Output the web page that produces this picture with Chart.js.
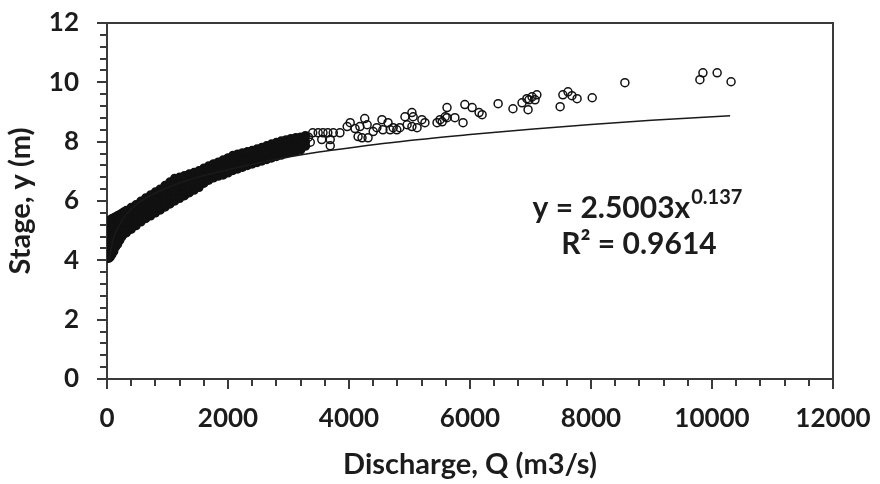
<!DOCTYPE html>
<html>
<head>
<meta charset="utf-8">
<script src="https://cdn.jsdelivr.net/npm/chart.js@4.4.1/dist/chart.umd.min.js"></script>
<style>
  html, body { margin: 0; padding: 0; background: #fff; }
  #wrap { width: 880px; height: 484px; }
</style>
</head>
<body>
<div id="wrap"><canvas id="chart" width="880" height="484"></canvas></div>
<script>
/* global Chart */

// Dense band of observations: one discharge value per column, with the stages seen there
const bandQ = [30, 55, 80, 110, 140, 175, 210, 245, 280, 320, 400, 480, 560, 640, 720, 800, 880, 960,
  1040, 1120, 1200, 1280, 1360, 1440, 1520, 1600, 1680, 1760, 1840, 1920, 2000, 2080, 2160, 2240,
  2320, 2400, 2480, 2560, 2640, 2720, 2800, 2880, 2960, 3040, 3120, 3200, 3280];
const bandStage = [
  [4.07, 4.23, 4.39, 4.55, 4.71, 4.87, 5.03, 5.19, 5.32],
  [4.12, 4.28, 4.44, 4.60, 4.76, 4.92, 5.08, 5.24, 5.36],
  [4.20, 4.36, 4.52, 4.68, 4.84, 5.00, 5.16, 5.32, 5.40],
  [4.30, 4.46, 4.62, 4.78, 4.94, 5.10, 5.26, 5.43],
  [4.45, 4.60, 4.76, 4.92, 5.08, 5.24, 5.46],
  [4.55, 4.71, 4.87, 5.03, 5.19, 5.35, 5.50],
  [4.68, 4.84, 5.00, 5.16, 5.32, 5.54],
  [4.80, 4.96, 5.12, 5.28, 5.44, 5.58],
  [4.90, 5.05, 5.20, 5.35, 5.50, 5.63],
  [4.93, 5.09, 5.25, 5.41, 5.57, 5.68],
  [5.05, 5.13, 5.29, 5.45, 5.61, 5.78],
  [5.17, 5.33, 5.49, 5.65, 5.87],
  [5.30, 5.38, 5.54, 5.70, 5.86, 5.99],
  [5.41, 5.57, 5.73, 5.89, 6.10],
  [5.50, 5.58, 5.74, 5.90, 6.06, 6.20],
  [5.60, 5.76, 5.92, 6.08, 6.30],
  [5.70, 5.78, 5.94, 6.10, 6.26, 6.40],
  [5.80, 5.96, 6.12, 6.28, 6.52],
  [5.90, 5.98, 6.14, 6.30, 6.46, 6.64],
  [6.00, 6.16, 6.32, 6.48, 6.64, 6.76],
  [6.09, 6.17, 6.33, 6.49, 6.65, 6.80],
  [6.18, 6.34, 6.50, 6.66, 6.85],
  [6.28, 6.36, 6.52, 6.68, 6.91],
  [6.37, 6.53, 6.69, 6.85, 6.96],
  [6.46, 6.54, 6.70, 6.86, 7.02],
  [6.60, 6.76, 6.92, 7.10],
  [6.70, 6.78, 6.94, 7.10, 7.18],
  [6.78, 6.94, 7.10, 7.25],
  [6.84, 6.92, 7.08, 7.24, 7.31],
  [6.88, 7.04, 7.20, 7.38],
  [6.95, 7.03, 7.19, 7.35, 7.45],
  [7.03, 7.19, 7.35, 7.53],
  [7.08, 7.16, 7.32, 7.48, 7.58],
  [7.14, 7.30, 7.46, 7.62],
  [7.20, 7.28, 7.44, 7.60, 7.66],
  [7.25, 7.41, 7.57, 7.70],
  [7.30, 7.38, 7.54, 7.75],
  [7.35, 7.51, 7.67, 7.80],
  [7.40, 7.48, 7.64, 7.86],
  [7.45, 7.61, 7.77, 7.92],
  [7.50, 7.58, 7.74, 7.90, 7.97],
  [7.55, 7.71, 7.87, 8.02],
  [7.60, 7.68, 7.84, 8.00, 8.06],
  [7.64, 7.80, 7.96, 8.10],
  [7.68, 7.76, 7.92, 8.08, 8.13],
  [7.72, 7.88, 8.04, 8.15],
  [7.85, 8.00, 8.20],
];

// Scattered high-flow observations
const sparseQ = [3330, 3360, 3400, 3490, 3570, 3650, 3740, 3550, 3690, 3690, 3850, 3970, 4020, 4100,
  4180, 4260, 4300, 4150, 4215, 4315, 4400, 4460, 4545, 4560, 4645, 4680, 4730, 4790, 4840, 4925,
  5040, 5060, 4960, 5040, 5125, 5205, 5255, 5455, 5505, 5590, 5620, 5620, 5540, 5750, 5885, 5915,
  6035, 6150, 6200, 6465, 6710, 6860, 6960, 6940, 7025, 7105, 6975, 7075, 7490, 7535, 7620, 7685,
  7770, 8020, 8560, 9800, 9850, 10085, 10315];
const sparseStage = [8.15, 7.98, 8.30, 8.30, 8.30, 8.30, 8.30, 8.07, 8.07, 7.86, 8.30, 8.51, 8.64, 8.44,
  8.51, 8.78, 8.57, 8.17, 8.13, 8.13, 8.34, 8.47, 8.74, 8.40, 8.64, 8.40, 8.47, 8.40, 8.47, 8.84,
  8.98, 8.84, 8.57, 8.51, 8.47, 8.74, 8.64, 8.64, 8.74, 8.84, 9.15, 8.81, 8.67, 8.81, 8.64, 9.25,
  9.15, 8.98, 8.91, 9.28, 9.11, 9.31, 9.08, 9.45, 9.51, 9.58, 9.41, 9.41, 9.18, 9.58, 9.68, 9.55,
  9.45, 9.48, 9.99, 10.09, 10.32, 10.32, 10.02];

// Power trendline as drawn on the picture
const trendQ = [30, 100, 250, 500, 1000, 1500, 2000, 2500, 3000, 3500, 4000, 5000, 6000, 7000, 8000, 9000, 10300];
const trendStage = [3.98, 4.70, 5.35, 5.90, 6.45, 6.80, 7.05, 7.28, 7.48, 7.65, 7.79, 8.04, 8.24, 8.42, 8.58, 8.72, 8.87];

const xTicks = [0, 2000, 4000, 6000, 8000, 10000, 12000];
const yTicks = [0, 2, 4, 6, 8, 10, 12];
const equationText = "y = 2.5003x";
const equationPower = "0.137";
const rSquaredText = "R\u00B2 = 0.9614";

const FONT = "Lato, 'Open Sans', sans-serif";
const TEXT = "#1c1c1c";
const AXIS = "#3a3a3a";

const points = [];
bandQ.forEach((q, i) => bandStage[i].forEach((s) => points.push({ x: q, y: s })));
sparseQ.forEach((q, i) => points.push({ x: q, y: sparseStage[i] }));
const trend = trendQ.map((q, i) => ({ x: q, y: trendStage[i] }));

// minor tick marks + top/right frame + equation label
const extras = {
  id: "extras",
  afterDraw(chart) {
    const { ctx, chartArea: a, scales: { x, y } } = chart;
    ctx.save();
    ctx.strokeStyle = AXIS;
    ctx.lineWidth = 2;
    ctx.beginPath();
    for (let q = 400; q < 12000; q += 400) {
      const px = Math.round(x.getPixelForValue(q));
      ctx.moveTo(px, a.bottom);
      ctx.lineTo(px, a.bottom + 7);
    }
    for (let k = 1; k < 30; k++) {
      const py = Math.round(y.getPixelForValue(k * 0.4));
      ctx.moveTo(a.left, py);
      ctx.lineTo(a.left - 7, py);
    }
    ctx.stroke();

    ctx.beginPath();
    ctx.moveTo(a.left, a.top);
    ctx.lineTo(a.right, a.top);
    ctx.lineTo(a.right, a.bottom);
    ctx.stroke();

    ctx.fillStyle = TEXT;
    ctx.textBaseline = "alphabetic";
    ctx.textAlign = "left";
    const cx = a.left + (a.right - a.left) * 0.73;
    ctx.font = `bold 30px ${FONT}`;
    const w1 = ctx.measureText(equationText).width;
    ctx.font = `bold 20px ${FONT}`;
    const w2 = ctx.measureText(equationPower).width;
    const x0 = cx - (w1 + w2) / 2;
    ctx.font = `bold 30px ${FONT}`;
    ctx.fillText(equationText, x0, 218);
    ctx.font = `bold 20px ${FONT}`;
    ctx.fillText(equationPower, x0 + w1 + 1, 204);
    ctx.font = `bold 30px ${FONT}`;
    ctx.textAlign = "center";
    ctx.fillText(rSquaredText, cx + 2, 254);
    ctx.restore();
  },
};

new Chart(document.getElementById("chart").getContext("2d"), {
  type: "scatter",
  data: {
    datasets: [
      {
        label: "Observed",
        data: points,
        pointRadius: 4,
        pointHoverRadius: 4,
        pointBorderWidth: 1.5,
        pointBorderColor: "#111",
        pointBackgroundColor: (c) => (c.raw && c.raw.x <= 3300 ? "#111" : "rgba(0,0,0,0)"),
        clip: { left: 0, top: false, right: false, bottom: false },
        order: 2,
      },
      {
        label: "Power trend",
        data: trend,
        showLine: true,
        pointRadius: 0,
        borderColor: "#1a1a1a",
        borderWidth: 1.5,
        cubicInterpolationMode: "monotone",
        order: 1,
      },
    ],
  },
  options: {
    responsive: false,
    animation: false,
    devicePixelRatio: 1,
    layout: { padding: { top: 23, right: 47, left: 0, bottom: 0 } },
    plugins: { legend: { display: false }, tooltip: { enabled: false } },
    scales: {
      x: {
        type: "linear",
        min: xTicks[0],
        max: xTicks[xTicks.length - 1],
        afterBuildTicks: (s) => { s.ticks = xTicks.map((v) => ({ value: v })); },
        afterFit: (s) => { s.height = 105; s.paddingLeft = 0; s.paddingRight = 0; },
        ticks: {
          color: TEXT,
          font: { family: FONT, size: 26, weight: "bold" },
          padding: 14,
          maxRotation: 0,
          callback: (v) => String(v),
        },
        grid: { drawOnChartArea: false, tickLength: 10, color: AXIS, lineWidth: 2 },
        border: { color: AXIS, width: 2 },
        title: {
          display: true,
          text: "Discharge, Q (m3/s)",
          color: TEXT,
          font: { family: FONT, size: 29, weight: "bold" },
          padding: { top: 0, bottom: 2 },
        },
      },
      y: {
        type: "linear",
        min: yTicks[0],
        max: yTicks[yTicks.length - 1],
        afterBuildTicks: (s) => { s.ticks = yTicks.map((v) => ({ value: v })); },
        afterFit: (s) => { s.width = 107; s.paddingTop = 0; s.paddingBottom = 0; },
        ticks: {
          color: TEXT,
          font: { family: FONT, size: 26, weight: "bold" },
          padding: 18,
          callback: (v) => String(v),
        },
        grid: { drawOnChartArea: false, tickLength: 10, color: AXIS, lineWidth: 2 },
        border: { color: AXIS, width: 2 },
        title: {
          display: true,
          text: "Stage, y (m)",
          color: TEXT,
          font: { family: FONT, size: 29, weight: "bold" },
          padding: { top: 3, bottom: 0 },
        },
      },
    },
  },
  plugins: [extras],
});
</script>
</body>
</html>
